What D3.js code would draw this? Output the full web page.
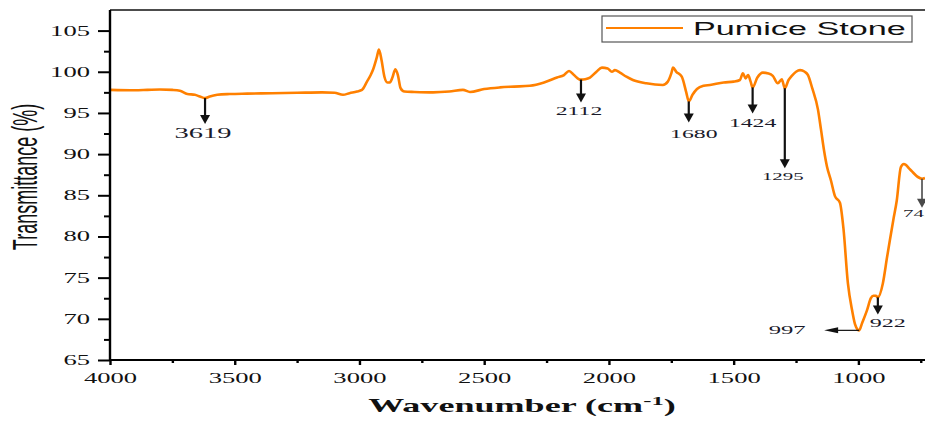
<!DOCTYPE html>
<html>
<head>
<meta charset="utf-8">
<script src="https://cdn.jsdelivr.net/npm/d3@7"></script>
<style>
  html, body { margin: 0; padding: 0; background: #fff; }
  svg { display: block; }
</style>
</head>
<body>
<svg id="chart" width="925" height="421"></svg>
<script>
// FTIR spectrum of pumice stone: wavenumber (cm-1) vs transmittance (%)
const wavenumber = [4000, 3900, 3850, 3800, 3750, 3720, 3690, 3660, 3640, 3619, 3600, 3570, 3520, 3450, 3350, 3250, 3150, 3100, 3066, 3040, 3010, 2990, 2970, 2955, 2945, 2930, 2922, 2912, 2900, 2888, 2878, 2868, 2856, 2846, 2835, 2820, 2780, 2705, 2640, 2585, 2557, 2500, 2437, 2380, 2317, 2260, 2208, 2180, 2160, 2140, 2120, 2112, 2095, 2076, 2050, 2028, 2005, 1988, 1976, 1956, 1930, 1904, 1850, 1784, 1764, 1750, 1743, 1730, 1708, 1690, 1680, 1665, 1647, 1620, 1595, 1540, 1500, 1475, 1463, 1452, 1442, 1432, 1424, 1405, 1383, 1360, 1343, 1323, 1307, 1295, 1280, 1267, 1250, 1234, 1215, 1202, 1185, 1162, 1150, 1138, 1126, 1110, 1094, 1074, 1060, 1042, 1025, 1014, 1003, 997, 985, 966, 950, 940, 930, 922, 902, 885, 874, 860, 846, 830, 818, 810, 795, 782, 765, 754, 745, 733];
const transmittance = [97.8, 97.75, 97.8, 97.85, 97.8, 97.7, 97.3, 97.2, 97.0, 96.8, 97.0, 97.2, 97.3, 97.35, 97.4, 97.45, 97.5, 97.45, 97.2, 97.4, 97.6, 97.8, 98.8, 99.6, 100.3, 101.8, 102.7, 101.5, 99.4, 98.7, 98.7, 99.3, 100.3, 99.6, 98.0, 97.6, 97.55, 97.5, 97.6, 97.8, 97.55, 97.9, 98.1, 98.2, 98.3, 98.7, 99.3, 99.6, 100.1, 99.6, 99.1, 99.05, 99.1, 99.3, 100.0, 100.5, 100.4, 100.0, 100.2, 99.9, 99.4, 99.0, 98.6, 98.4, 98.8, 99.8, 100.5, 100.0, 99.4, 97.5, 96.4, 97.2, 97.9, 98.3, 98.4, 98.7, 98.8, 99.0, 99.8, 99.2, 99.6, 98.8, 98.1, 99.3, 99.9, 99.8, 99.5, 98.6, 99.1, 98.0, 99.0, 99.5, 100.0, 100.2, 100.0, 99.6, 98.0, 95.4, 93.0, 90.5, 88.5, 86.8, 84.9, 84.1, 81.0, 74.3, 71.0, 69.4, 68.7, 68.6, 69.5, 71.0, 72.5, 72.8, 72.8, 72.6, 74.3, 77.5, 79.5, 82.0, 84.4, 88.4, 88.8, 88.7, 88.2, 87.8, 87.3, 87.1, 87.0, 87.1];

// Axis ticks
const xTicks = [4000, 3500, 3000, 2500, 2000, 1500, 1000];
const xMinorTicks = [3750, 3250, 2750, 2250, 1750, 1250, 750];
const yTicks = [65, 70, 75, 80, 85, 90, 95, 100, 105];
const yMinorTicks = [67.5, 72.5, 77.5, 82.5, 87.5, 92.5, 97.5, 102.5];

// Marked absorption bands
const bandLabels = ["3619", "2112", "1680", "1424", "1295", "922", "745"];
const bandPositions = [3619, 2112, 1680, 1424, 1295, 922, 745];
const minimumLabel = "997";
const minimumPosition = 997;

const seriesName = "Pumice Stone";
const lineColor = "#ff8000";
const SX = 1.9; // horizontal text stretch

const svg = d3.select("#chart");
const plotLeft = 110, plotRight = 925, plotTop = 10, plotBottom = 360;

const x = d3.scaleLinear().domain([4000, 733]).range([plotLeft, plotRight]);
const y = d3.scaleLinear().domain([65, 107.5]).range([plotBottom, plotTop]);

const data = wavenumber.map((w, i) => ({ w, t: transmittance[i] }));
const tAt = d3.scaleLinear().domain(wavenumber.slice().reverse()).range(transmittance.slice().reverse());

function stretchTicks(g) {
  g.selectAll(".tick text").each(function () {
    const tx = +this.getAttribute("x") || 0;
    const ty = +this.getAttribute("y") || 0;
    this.setAttribute("x", 0);
    this.setAttribute("y", 0);
    this.setAttribute("transform", `translate(${tx},${ty}) scale(${SX},1)`);
  });
}

// Spectrum
svg.append("path")
  .datum(data)
  .attr("fill", "none")
  .attr("stroke", lineColor)
  .attr("stroke-width", 2.6)
  .attr("stroke-linejoin", "round")
  .attr("d", d3.line().x(d => x(d.w)).y(d => y(d.t)).curve(d3.curveMonotoneX));

// Frame: top border
svg.append("line")
  .attr("x1", plotLeft).attr("x2", plotRight).attr("y1", plotTop).attr("y2", plotTop)
  .attr("stroke", "#111").attr("stroke-width", 1.6);

// Y axis
const yAxis = svg.append("g").attr("transform", `translate(${plotLeft},0)`)
  .call(d3.axisLeft(y).tickValues(yTicks).tickSize(12).tickPadding(8).tickFormat(d3.format("d")));
yAxis.select(".domain").attr("stroke-width", 2.4).attr("d", `M0,${plotTop}V${plotBottom}`);
yAxis.selectAll(".tick line").attr("stroke-width", 2);
yAxis.selectAll(".tick text")
  .attr("font-family", "'Liberation Serif', 'Times New Roman', serif")
  .attr("font-size", 14).attr("fill", "#111");
stretchTicks(yAxis);
svg.append("g").attr("transform", `translate(${plotLeft},0)`)
  .call(d3.axisLeft(y).tickValues(yMinorTicks).tickSize(6).tickFormat(""))
  .call(g => g.select(".domain").remove())
  .selectAll(".tick line").attr("stroke-width", 2);

// X axis
const xAxis = svg.append("g").attr("transform", `translate(0,${plotBottom})`)
  .call(d3.axisBottom(x).tickValues(xTicks).tickSize(5).tickPadding(8).tickFormat(d3.format("d")));
xAxis.select(".domain").attr("stroke-width", 2).attr("d", `M${plotLeft},0H${plotRight}`);
xAxis.selectAll(".tick line").attr("stroke-width", 2.4);
xAxis.selectAll(".tick text")
  .attr("font-family", "'Liberation Serif', 'Times New Roman', serif")
  .attr("font-size", 14).attr("fill", "#111");
stretchTicks(xAxis);
svg.append("g").attr("transform", `translate(0,${plotBottom})`)
  .call(d3.axisBottom(x).tickValues(xMinorTicks).tickSize(3).tickFormat(""))
  .call(g => g.select(".domain").remove())
  .selectAll(".tick line").attr("stroke-width", 2.4);

// Axis titles
svg.append("text")
  .attr("transform", `translate(522,412) scale(${SX},1)`)
  .attr("text-anchor", "middle")
  .attr("font-family", "'Liberation Serif', 'Times New Roman', serif")
  .attr("font-weight", "bold").attr("font-size", 19).attr("fill", "#111")
  .call(t => {
    t.append("tspan").text("Wavenumber (cm");
    t.append("tspan").attr("dy", -7).attr("font-size", 13).text("-1");
    t.append("tspan").attr("dy", 7).text(")");
  });

svg.append("text")
  .attr("transform", `translate(37,177) scale(${SX},1) rotate(-90)`)
  .attr("text-anchor", "middle")
  .attr("font-family", "'Liberation Sans', Arial, sans-serif")
  .attr("font-size", 18).attr("fill", "#111")
  .text("Transmittance (%)");

// Band annotations: arrow drop (px) and label placement
const arrowDrop = { "3619": 26, "2112": 23, "1680": 21, "1424": 26, "1295": 80, "922": 17, "745": 29 };
const labelSpec = {
  "3619": { dx: -2, dy: 14, size: 15, anchor: "middle" },
  "2112": { dx: -2, dy: 12, size: 12.5, anchor: "middle" },
  "1680": { dx: 5, dy: 16, size: 12.5, anchor: "middle" },
  "1424": { dx: 0, dy: 14, size: 12.5, anchor: "middle" },
  "1295": { dx: -2, dy: 12, size: 11, anchor: "middle" },
  "922": { dx: 10, dy: 13, size: 12.7, anchor: "middle" },
  "745": { dx: -19, dy: 9, size: 11, anchor: "start" }
};

function arrowDown(cx, y0, y1, color, width) {
  const head = 9, half = 5;
  svg.append("line")
    .attr("x1", cx).attr("x2", cx).attr("y1", y0).attr("y2", y1 - head + 1)
    .attr("stroke", color).attr("stroke-width", width);
  svg.append("path")
    .attr("d", `M${cx - half},${y1 - head}L${cx + half},${y1 - head}L${cx},${y1}Z`)
    .attr("fill", color);
}

bandLabels.forEach((lab, i) => {
  const w = bandPositions[i];
  const cx = x(w);
  const y0 = y(tAt(w));
  const y1 = y0 + arrowDrop[lab];
  const color = lab === "745" ? "#4a4a4a" : "#111";
  arrowDown(cx, y0, y1, color, lab === "745" ? 1.6 : 2.2);
  const s = labelSpec[lab];
  svg.append("text")
    .attr("transform", `translate(${cx + s.dx},${y1 + s.dy}) scale(${SX},1)`)
    .attr("text-anchor", s.anchor)
    .attr("font-family", "'Liberation Serif', 'Times New Roman', serif")
    .attr("font-size", s.size).attr("fill", "#1a1a2a")
    .text(lab);
});

// Minimum band: horizontal arrow to the left
{
  const cx = x(minimumPosition);
  const cy = y(tAt(minimumPosition));
  const tip = cx - 35;
  svg.append("line")
    .attr("x1", cx).attr("x2", tip + 12).attr("y1", cy).attr("y2", cy)
    .attr("stroke", "#111").attr("stroke-width", 1.2);
  svg.append("path")
    .attr("d", `M${tip},${cy}L${tip + 14},${cy - 3}L${tip + 14},${cy + 3}Z`)
    .attr("fill", "#111");
  svg.append("text")
    .attr("transform", `translate(${tip - 37},${cy + 4}) scale(${SX},1)`)
    .attr("text-anchor", "middle")
    .attr("font-family", "'Liberation Serif', 'Times New Roman', serif")
    .attr("font-size", 13).attr("fill", "#1a1a2a")
    .text(minimumLabel);
}

// Legend
const legend = svg.append("g");
legend.append("rect")
  .attr("x", 602).attr("y", 16).attr("width", 310).attr("height", 26)
  .attr("fill", "#fff").attr("stroke", "#555").attr("stroke-width", 1.2);
legend.append("line")
  .attr("x1", 606).attr("x2", 683).attr("y1", 28).attr("y2", 28)
  .attr("stroke", lineColor).attr("stroke-width", 2);
legend.append("text")
  .attr("transform", `translate(693,35) scale(${SX},1)`)
  .attr("font-family", "'Liberation Sans', Arial, sans-serif")
  .attr("font-size", 18).attr("fill", "#111")
  .text(seriesName);
</script>
</body>
</html>
